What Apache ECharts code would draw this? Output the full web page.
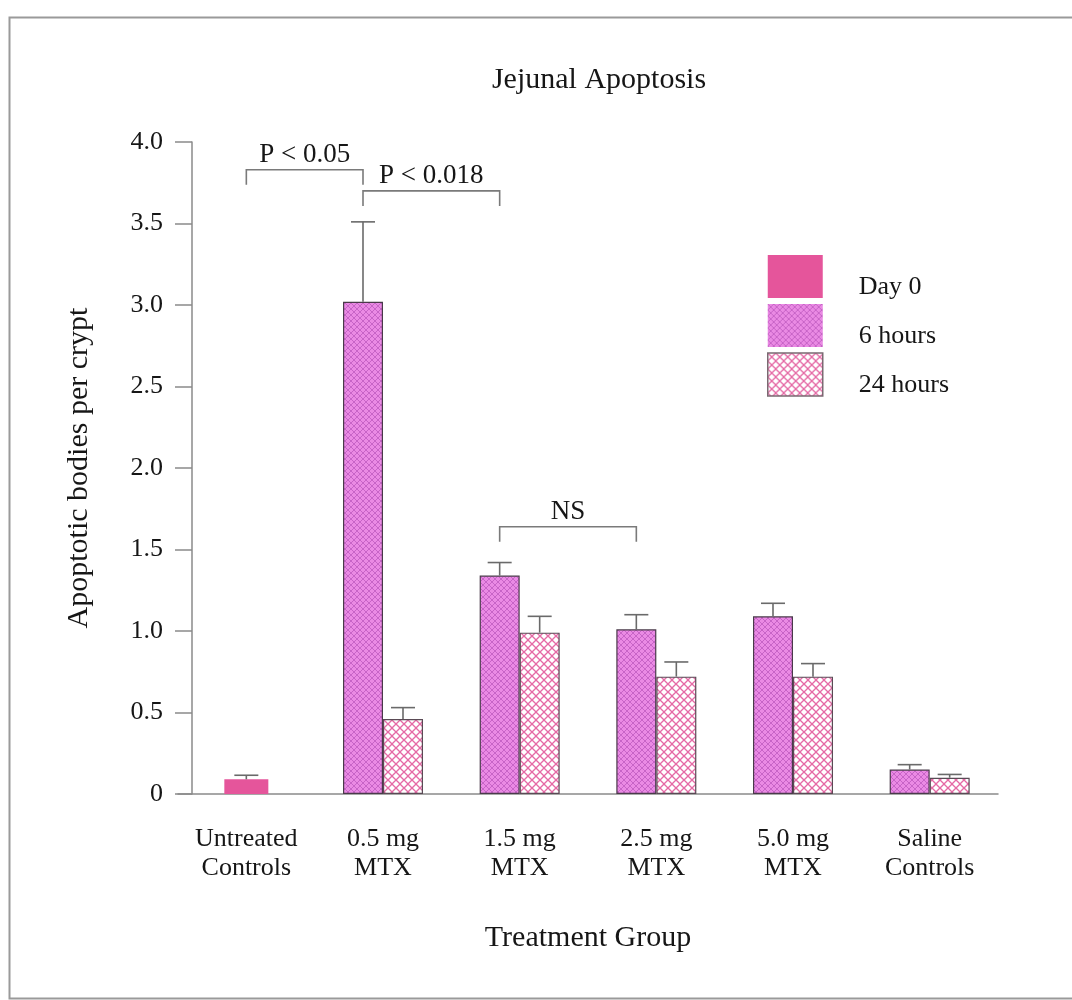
<!DOCTYPE html>
<html>
<head>
<meta charset="utf-8">
<title>Jejunal Apoptosis</title>
<script src="https://cdn.jsdelivr.net/npm/echarts@6/dist/echarts.min.js"></script>
<style>
  html, body { margin: 0; padding: 0; background: #fff; }
  #chart { width: 1072px; height: 1000px; }
</style>
</head>
<body>
<div id="chart"></div>
<script>
// Treatment groups along the x axis
const categories = ['Untreated\nControls', '0.5 mg\nMTX', '1.5 mg\nMTX', '2.5 mg\nMTX', '5.0 mg\nMTX', 'Saline\nControls'];

// Mean apoptotic bodies per crypt, and the upper error (SEM) for each bar
const day0Values = [0.09, null, null, null, null, null];
const day0Errors = [0.025, null, null, null, null, null];
const h6Values = [null, 3.02, 1.34, 1.01, 1.09, 0.15];
const h6Errors = [null, 0.49, 0.08, 0.09, 0.08, 0.03];
const h24Values = [null, 0.46, 0.99, 0.72, 0.72, 0.10];
const h24Errors = [null, 0.07, 0.10, 0.09, 0.08, 0.02];

// Y axis ticks
const yTicks = [0, 0.5, 1.0, 1.5, 2.0, 2.5, 3.0, 3.5, 4.0];

// Significance brackets: from (group, series) to (group, series) at a given level
const bracketFromCat = [0, 1, 2];
const bracketFromSeries = ['Day 0', '6 hours', '6 hours'];
const bracketToCat = [1, 2, 3];
const bracketToSeries = ['6 hours', '6 hours', '6 hours'];
const bracketLevel = [3.83, 3.70, 1.64];
const bracketText = ['P < 0.05', 'P < 0.018', 'NS'];

const SERIF = '"Liberation Serif", "Times New Roman", serif';
const INK = '#161616';
const BAR_W = 40;
const DAY0_W = 44;
const barShift = { 'Day 0': 0, '6 hours': -BAR_W / 2, '24 hours': BAR_W / 2 };

// Hatched fills built as small repeating tiles
function crossTile(size, bg, line, width) {
  const c = document.createElement('canvas');
  c.width = size; c.height = size;
  const g = c.getContext('2d');
  g.fillStyle = bg;
  g.fillRect(0, 0, size, size);
  g.strokeStyle = line;
  g.lineWidth = width;
  for (const o of [-size, 0, size]) {
    g.beginPath(); g.moveTo(o, 0); g.lineTo(o + size, size); g.stroke();
    g.beginPath(); g.moveTo(o + size, 0); g.lineTo(o, size); g.stroke();
  }
  return c;
}
const h6Fill = { image: crossTile(6, '#ea8ae4', 'rgba(170,70,175,0.55)', 1), repeat: 'repeat' };
const h24Fill = { image: crossTile(8, '#ffffff', '#e56aa6', 1.3), repeat: 'repeat' };

function errorSeries(name, values, errors, axisIndex) {
  const shift = barShift[name];
  const data = [];
  values.forEach((v, i) => {
    if (v != null && errors[i] != null) data.push([i, v, v + errors[i]]);
  });
  return {
    type: 'custom',
    name: name + ' error',
    xAxisIndex: axisIndex,
    z: 3,
    silent: true,
    encode: { x: 0, y: [1, 2] },
    data: data,
    renderItem: function (params, api) {
      const i = api.value(0);
      const lo = api.coord([i, api.value(1)]);
      const hi = api.coord([i, api.value(2)]);
      const cx = lo[0] + shift;
      const st = { stroke: '#6a6a6a', lineWidth: 1.6 };
      return {
        type: 'group',
        children: [
          { type: 'line', shape: { x1: cx, y1: lo[1], x2: cx, y2: hi[1] }, style: st },
          { type: 'line', shape: { x1: cx - 12, y1: hi[1], x2: cx + 12, y2: hi[1] }, style: st }
        ]
      };
    }
  };
}

const bracketData = bracketLevel.map((lv, k) => [bracketFromCat[k], bracketToCat[k], lv]);

const option = {
  backgroundColor: '#ffffff',
  animation: false,
  title: {
    text: 'Jejunal Apoptosis',
    left: 594,
    top: 60,
    textAlign: 'center',
    textStyle: { fontFamily: SERIF, fontSize: 30, fontWeight: 'normal', color: INK }
  },
  legend: {
    orient: 'vertical',
    left: 767,
    top: 253,
    padding: 0,
    itemWidth: 55,
    itemHeight: 43,
    itemGap: 2,
    icon: 'rect',
    data: [
      { name: 'Day 0', itemStyle: { borderWidth: 0 } },
      { name: '6 hours', itemStyle: { borderWidth: 0 } },
      { name: '24 hours', itemStyle: { borderColor: '#7a6a72', borderWidth: 1.5 } }
    ],
    // a leading blank line drops each label slightly below its swatch centre
    formatter: name => '\n' + name,
    textStyle: { fontFamily: SERIF, fontSize: 26, color: INK, lineHeight: 21, padding: [0, 0, 0, 31] }
  },
  grid: { left: 178, right: 74, top: 142, bottom: 206, containLabel: false },
  xAxis: [
    {
      type: 'category',
      data: categories,
      name: 'Treatment Group',
      nameLocation: 'middle',
      nameGap: 129,
      nameTextStyle: { fontFamily: SERIF, fontSize: 30, color: INK },
      axisLine: { lineStyle: { color: '#8a8a8a', width: 1.5 } },
      axisTick: { show: false },
      axisLabel: { fontFamily: SERIF, fontSize: 26, color: INK, lineHeight: 29, margin: 31, interval: 0 }
    },
    {
      type: 'category',
      data: categories,
      show: false
    }
  ],
  yAxis: {
    type: 'value',
    min: yTicks[0],
    max: yTicks[yTicks.length - 1],
    interval: yTicks[1] - yTicks[0],
    offset: -14,
    name: 'Apoptotic bodies per crypt',
    nameLocation: 'middle',
    nameGap: 98,
    nameTextStyle: { fontFamily: SERIF, fontSize: 30, color: INK },
    axisLine: { show: true, lineStyle: { color: '#8a8a8a', width: 1.5 } },
    axisTick: { show: true, inside: false, length: 17, lineStyle: { color: '#8a8a8a', width: 1.5 } },
    splitLine: { show: false },
    axisLabel: {
      fontFamily: SERIF, fontSize: 26, color: INK, margin: 29,
      formatter: v => (v === 0 ? '0' : v.toFixed(1))
    }
  },
  series: [
    {
      name: 'Day 0',
      type: 'bar',
      xAxisIndex: 1,
      barWidth: DAY0_W,
      data: day0Values,
      itemStyle: { color: '#e5559b', borderWidth: 0 }
    },
    {
      name: '6 hours',
      type: 'bar',
      xAxisIndex: 0,
      barWidth: BAR_W,
      barGap: '0%',
      data: h6Values,
      itemStyle: { color: h6Fill, borderColor: '#4a3a4a', borderWidth: 1.2 }
    },
    {
      name: '24 hours',
      type: 'bar',
      xAxisIndex: 0,
      barWidth: BAR_W,
      barGap: '0%',
      data: h24Values,
      itemStyle: { color: h24Fill, borderColor: '#5a4a55', borderWidth: 1.2 }
    },
    errorSeries('Day 0', day0Values, day0Errors, 1),
    errorSeries('6 hours', h6Values, h6Errors, 0),
    errorSeries('24 hours', h24Values, h24Errors, 0),
    {
      type: 'custom',
      name: 'significance',
      xAxisIndex: 0,
      silent: true,
      z: 4,
      encode: { x: [0, 1], y: 2 },
      data: bracketData,
      renderItem: function (params, api) {
        const k = params.dataIndex;
        const a = api.coord([api.value(0), api.value(2)]);
        const b = api.coord([api.value(1), api.value(2)]);
        const x1 = a[0] + barShift[bracketFromSeries[k]];
        const x2 = b[0] + barShift[bracketToSeries[k]];
        const y = a[1];
        const st = { stroke: '#7a7a7a', lineWidth: 1.6, fill: null };
        return {
          type: 'group',
          children: [
            { type: 'polyline', shape: { points: [[x1, y + 15], [x1, y], [x2, y], [x2, y + 15]] }, style: st },
            {
              type: 'text',
              style: {
                text: bracketText[k], x: (x1 + x2) / 2, y: y - 1,
                align: 'center', verticalAlign: 'bottom',
                fill: INK, fontFamily: SERIF, fontSize: 27
              }
            }
          ]
        };
      }
    }
  ],
  graphic: [
    {
      type: 'rect',
      left: 7, top: 15,
      shape: { width: 1090, height: 981 },
      style: { fill: null, stroke: '#9a9a9a', lineWidth: 2 },
      silent: true
    }
  ]
};

const chart = echarts.init(document.getElementById('chart'), null, { renderer: 'canvas' });
chart.setOption(option);
</script>
</body>
</html>
